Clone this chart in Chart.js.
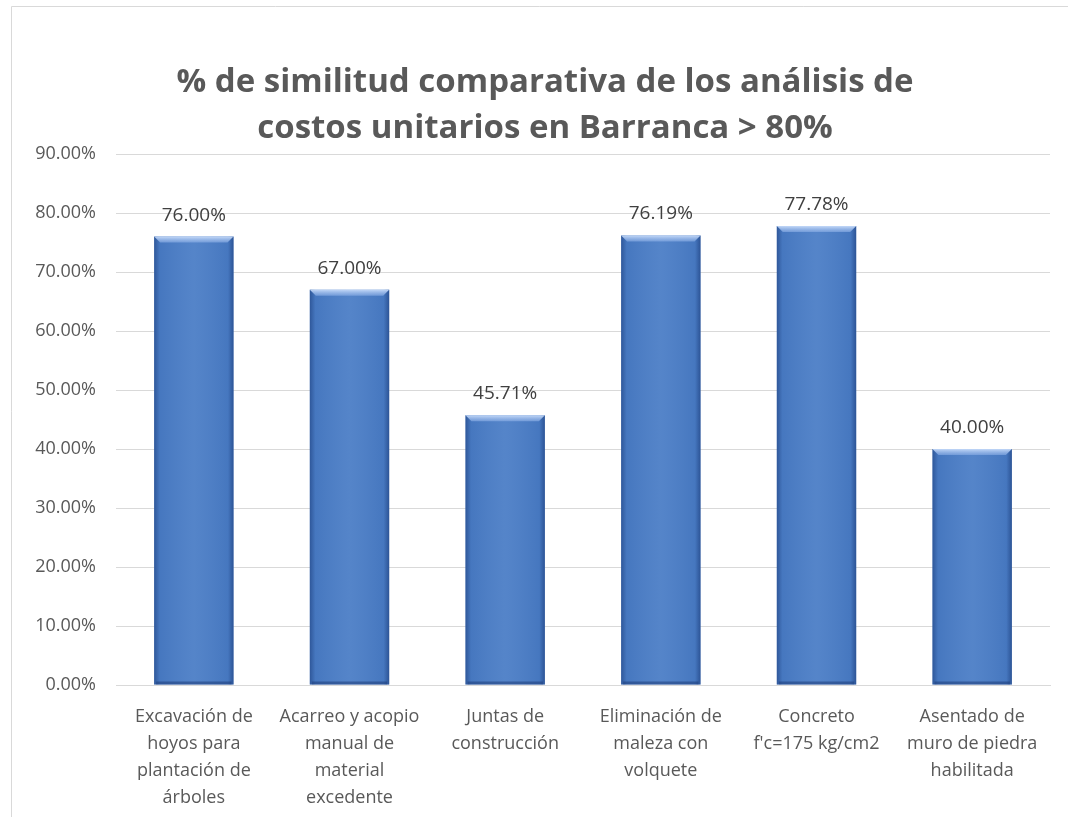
<!DOCTYPE html>
<html>
<head>
<meta charset="utf-8">
<script src="https://cdn.jsdelivr.net/npm/chart.js"></script>
<style>
  html, body { margin: 0; padding: 0; background: #fff; }
  #wrap { position: relative; width: 1068px; height: 817px; }
</style>
</head>
<body>
<div id="wrap"><canvas id="chart" width="1068" height="817"></canvas></div>
<script>
const categories = [
  ["Excavación de", "hoyos para", "plantación de", "árboles"],
  ["Acarreo y acopio", "manual de", "material", "excedente"],
  ["Juntas de", "construcción"],
  ["Eliminación de", "maleza con", "volquete"],
  ["Concreto", "f'c=175 kg/cm2"],
  ["Asentado de", "muro de piedra", "habilitada"]
];
const similitud = [76.00, 67.00, 45.71, 76.19, 77.78, 40.00];
const yTicks = [0, 10, 20, 30, 40, 50, 60, 70, 80, 90];
const titleLines = ["% de similitud comparativa de los análisis de", "costos unitarios en Barranca > 80%"];

const FONT = "'Open Sans', 'Noto Sans', sans-serif";

// light frame round the chart, cut by the page edges
const framePlugin = {
  id: "frame",
  beforeDraw(chart) {
    const c = chart.ctx;
    c.save();
    c.strokeStyle = "#d9d9d9";
    c.lineWidth = 1;
    c.beginPath();
    c.moveTo(11.5, 817);
    c.lineTo(11.5, 6.5);
    c.lineTo(1068, 6.5);
    c.stroke();
    c.restore();
  }
};

// title is centred on the frame, not on the plot, so draw it by hand
const titlePlugin = {
  id: "chartTitle",
  afterDraw(chart) {
    const c = chart.ctx;
    c.save();
    c.fillStyle = "#595959";
    c.font = "bold 33px " + FONT;
    c.textAlign = "center";
    c.textBaseline = "middle";
    titleLines.forEach((line, i) => c.fillText(line, 545, 83 + i * 46));
    c.restore();
  }
};

// bevel look on each bar + value labels above
const bevelPlugin = {
  id: "bevel",
  afterDatasetsDraw(chart) {
    const c = chart.ctx;
    const meta = chart.getDatasetMeta(0);
    meta.data.forEach((bar, i) => {
      const left = bar.x - bar.width / 2;
      const right = bar.x + bar.width / 2;
      const top = bar.y;
      const bottom = bar.base;
      const w = right - left;
      const e = 6;
      c.save();
      // side shading
      let g = c.createLinearGradient(left, 0, right, 0);
      g.addColorStop(0, "rgba(20,50,110,0.5)");
      g.addColorStop(0.07, "rgba(20,50,110,0.08)");
      g.addColorStop(0.5, "rgba(255,255,255,0.06)");
      g.addColorStop(0.93, "rgba(20,50,110,0.08)");
      g.addColorStop(1, "rgba(20,50,110,0.55)");
      c.fillStyle = g;
      c.fillRect(left, top, w, bottom - top);
      // top bevel
      g = c.createLinearGradient(0, top, 0, top + e);
      g.addColorStop(0, "rgba(200,220,250,0.95)");
      g.addColorStop(1, "rgba(140,175,230,0.6)");
      c.fillStyle = g;
      c.beginPath();
      c.moveTo(left, top);
      c.lineTo(right, top);
      c.lineTo(right - e, top + e);
      c.lineTo(left + e, top + e);
      c.closePath();
      c.fill();
      // bottom dark line
      c.fillStyle = "rgba(30,60,120,0.55)";
      c.fillRect(left + 2, bottom - 3, w - 4, 3);
      // label
      c.fillStyle = "#404040";
      c.font = "19px " + FONT;
      c.textAlign = "center";
      c.textBaseline = "alphabetic";
      c.fillText(similitud[i].toFixed(2) + "%", bar.x, top - 16);
      c.restore();
    });
  }
};

new Chart(document.getElementById("chart"), {
  type: "bar",
  data: {
    labels: categories,
    datasets: [{
      data: similitud,
      backgroundColor: "#4a7dc6",
      borderWidth: 0,
      barPercentage: 0.51,
      categoryPercentage: 1.0
    }]
  },
  options: {
    responsive: false,
    animation: false,
    events: [],
    layout: { padding: { left: 0, right: 18, top: 154, bottom: 0 } },
    plugins: {
      legend: { display: false },
      tooltip: { enabled: false },
      title: { display: false }
    },
    scales: {
      x: {
        grid: { display: false, drawTicks: false },
        border: { display: true, color: "#d9d9d9" },
        ticks: {
          color: "#595959",
          font: { family: FONT, size: 18, lineHeight: 1.5 },
          padding: 18,
          maxRotation: 0,
          autoSkip: false
        },
        afterFit(scale) { scale.height = 132; }
      },
      y: {
        min: 0,
        max: 90,
        afterBuildTicks(scale) { scale.ticks = yTicks.map(v => ({ value: v })); },
        grid: { color: "#d9d9d9", drawTicks: false },
        border: { display: false },
        ticks: {
          color: "#595959",
          font: { family: FONT, size: 18 },
          padding: 20,
          callback: v => v.toFixed(2) + "%"
        },
        afterFit(scale) { scale.width = 116; }
      }
    }
  },
  plugins: [framePlugin, titlePlugin, bevelPlugin]
});
</script>
</body>
</html>
